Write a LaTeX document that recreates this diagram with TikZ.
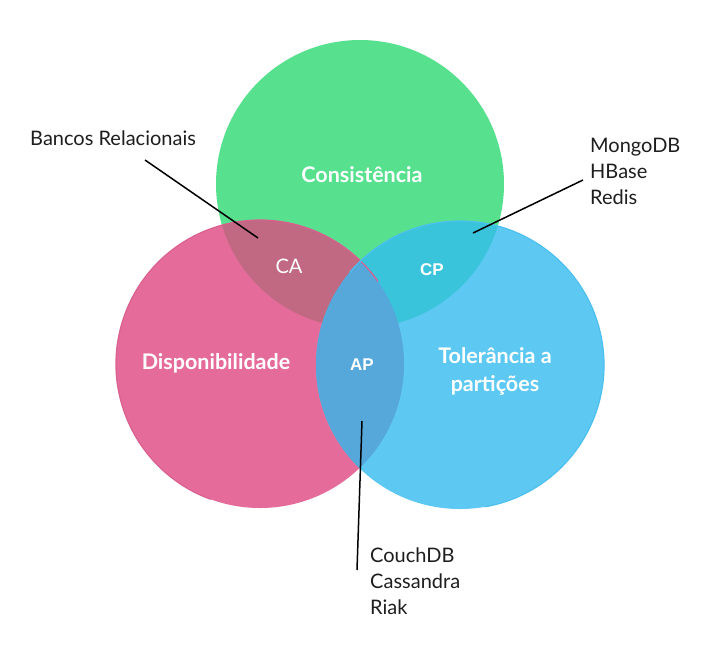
\documentclass[tikz,border=0pt]{standalone}
\usepackage{fontspec}
\setmainfont{Lato}
\newfontfamily\arialfont{Liberation Sans}
\usepackage{tikz}
\usetikzlibrary{positioning}
\definecolor{capgreen}{RGB}{87,224,142}
\definecolor{cappink}{RGB}{229,108,154}
\definecolor{cappinkedge}{RGB}{218,96,144}
\definecolor{capblue}{RGB}{93,200,242}
\definecolor{capblueedge}{RGB}{76,192,238}
\definecolor{capca}{RGB}{193,104,130}
\definecolor{capcp}{RGB}{58,196,220}
\definecolor{capap}{RGB}{86,168,218}
\definecolor{captext}{RGB}{30,30,30}
\tikzset{
    venn/.style={x=1pt, y=-1pt},
    venn title/.style={font=\fontsize{21.5}{24}\selectfont\bfseries, text=white,
        align=center, inner sep=0pt},
    venn pair/.style={font=\fontsize{17}{20}\selectfont\arialfont\bfseries,
        text=white, inner sep=0pt},
    venn note/.style={font=\fontsize{20}{26}\selectfont, text=captext,
        align=left, inner sep=0pt},
    venn pointer/.style={line width=1.5pt, draw=black},
}

\begin{document}
\begin{tikzpicture}[venn]
        \useasboundingbox (0,0) rectangle (725,654);
        \fill[white] (0,0) rectangle (725,654);

        % the three circles
        \def\rad{144}
        \fill[capgreen] (360,184) circle (\rad);
        \fill[cappink] (260,364) circle (\rad);
        \fill[capblue] (460,365) circle (\rad);
        \begin{scope}
            \clip (360,184) circle (\rad);
            \fill[capca] (260,364) circle (\rad);
            \fill[capcp] (460,365) circle (\rad);
        \end{scope}
        \begin{scope}
            \clip (260,364) circle (\rad);
            \fill[capap] (460,365) circle (\rad);
        \end{scope}
        \draw[cappinkedge, line width=1.2pt] (260,364) ++(-110:\rad) arc (-110:-250:\rad);
        \draw[cappinkedge, line width=1.2pt] (260,364) ++(-110:\rad) arc (-110:-35:\rad);
        \draw[capblueedge, line width=1.2pt] (460,365) ++(80:\rad) arc (80:-140:\rad);

        % region titles
        \node[venn title] (cons) at (362,175) {Consistência};
        \node[venn title] (disp) at (216,363) {Disponibilidade};
        \node[venn title] (tol) at (495,371) {Tolerância a\\[4pt]partições};
        \node[venn title, font=\fontsize{20}{24}\selectfont] (ca) at (289,266) {CA};
        \node[venn pair] (cp) at (432,270) {CP};
        \node[venn pair] (ap) at (362,365) {AP};

        % examples
        \node[venn note, anchor=west] (bancos) at (30,138) {Bancos Relacionais};
        \node[venn note, anchor=north west] (mongo) at (590,138) {MongoDB\\HBase\\Redis};
        \node[venn note, anchor=north west] (couch) at (370,548) {CouchDB\\Cassandra\\Riak};

        \coordinate (bancos tail) at (145,160);
        \coordinate (ca tip) at (258,238);
        \coordinate (mongo tail) at (583,180);
        \coordinate (cp tip) at (473,233);
        \coordinate (couch tail) at (357,570);
        \coordinate (ap tip) at (362,421);

        \draw[venn pointer] (bancos tail) -- (ca tip);
        \draw[venn pointer] (mongo tail) -- (cp tip);
        \draw[venn pointer] (couch tail) -- (ap tip);
    \end{tikzpicture}
\end{document}
